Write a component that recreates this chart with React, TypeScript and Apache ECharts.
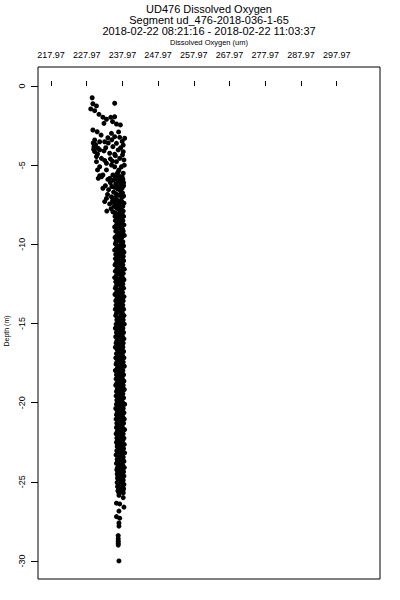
import React, { useEffect, useRef } from "react";
import * as echarts from "echarts";

const titleLines = [
  "UD476 Dissolved Oxygen",
  "Segment ud_476-2018-036-1-65",
  "2018-02-22 08:21:16 - 2018-02-22 11:03:37",
];
const xAxisTitle = "Dissolved Oxygen (um)";
const yAxisTitle = "Depth (m)";

const xTicks = [217.97, 227.97, 237.97, 247.97, 257.97, 267.97, 277.97, 287.97, 297.97];
const yTicks = [0, -5, -10, -15, -20, -25, -30];

// [oxygen (um), depth (m)]
const shallowPoints: [number, number][] = [
  [229.5, -0.74], [235.8, -1.09], [229.7, -1.12], [230.7, -1.26], [229.1, -1.45], [230.2, -1.56],
  [231.4, -1.79], [232.5, -1.97], [233.5, -2.1], [234.7, -1.98], [235.8, -1.94], [232.8, -2.36],
  [235.2, -2.25], [236.3, -2.4], [237.4, -2.46], [229.7, -2.78], [230.9, -2.89], [234.9, -2.99],
  [233.9, -3.27], [235.8, -3.2], [237.2, -3.24], [238.6, -3.3], [230.2, -3.41], [231.6, -3.52],
  [233.0, -3.52], [236.3, -3.62], [238.2, -3.73], [230.0, -3.83], [231.2, -3.94], [235.3, -3.83],
  [230.2, -4.15], [231.6, -4.04], [236.8, -4.04], [238.2, -4.15], [234.4, -4.25], [235.8, -4.31],
  [230.7, -4.46], [232.1, -4.57], [230.7, -4.78], [237.2, -4.57], [236.3, -4.78], [238.4, -4.67],
  [233.5, -4.88], [234.9, -4.99], [231.6, -5.1], [235.8, -5.1], [237.7, -5.1], [233.5, -5.3],
  [236.8, -5.41], [238.2, -5.51], [231.6, -5.67], [232.5, -5.62], [235.3, -5.62], [234.4, -5.83],
  [237.2, -5.83], [229.8, -3.6], [230.5, -3.7], [231.0, -4.3], [229.9, -4.0], [232.8, -4.1],
  [233.3, -3.9], [234.0, -3.6], [234.6, -4.6], [236.0, -4.4], [237.5, -3.9], [235.0, -3.4],
  [232.0, -3.1], [236.9, -2.9], [237.9, -3.5], [237.0, -5.3], [233.0, -4.7], [236.4, -5.55],
  [238.5, -5.0], [235.2, -4.75], [231.0, -5.3], [238.0, -4.35],
];

const transitionPoints: [number, number][] = [
  [233.9, -5.9], [235.5, -5.95], [236.8, -6.0], [238.1, -5.9], [232.1, -5.73], [231.2, -5.83],
  [234.6, -6.1], [236.1, -6.2], [237.6, -6.15], [233.2, -6.3], [235.0, -6.35], [238.3, -6.3],
  [232.5, -6.46], [234.1, -6.55], [236.6, -6.5], [237.4, -6.6], [235.5, -6.7], [238.0, -6.75],
  [233.8, -6.85], [236.9, -6.9], [234.9, -7.0], [237.8, -7.05], [233.5, -7.1], [236.2, -7.15],
  [235.2, -7.25], [233.0, -7.3], [237.3, -7.3], [238.4, -7.4], [234.4, -7.45], [236.5, -7.5],
  [235.6, -7.6], [237.7, -7.65], [234.8, -7.75], [236.9, -7.8], [233.6, -7.9], [238.2, -7.9],
  [235.9, -8.0], [237.2, -8.05], [236.9, -5.65], [237.9, -5.75], [236.0, -5.8], [237.3, -6.05],
  [238.3, -6.1], [235.8, -6.4], [237.0, -6.35], [237.9, -6.45], [236.2, -6.8], [237.5, -6.85],
  [238.3, -6.95], [235.9, -7.05], [236.8, -7.25], [237.8, -7.3], [235.7, -7.38], [237.1, -7.55],
  [238.1, -7.6], [236.3, -7.7], [237.4, -7.85], [235.3, -7.95],
];

const bandLeft: [number, number][] = [
  [236.2, -8.1], [235.9, -8.24], [236.6, -8.37], [236.0, -8.5], [236.8, -8.64], [236.3, -8.77],
  [235.8, -8.9], [236.5, -9.04], [236.1, -9.17], [236.9, -9.3], [236.4, -9.44], [235.9, -9.57],
  [236.7, -9.7], [236.2, -9.84], [236.0, -9.97], [236.6, -10.1], [236.3, -10.24], [235.8, -10.37],
  [236.7, -10.5], [236.1, -10.64], [236.5, -10.77], [236.0, -10.9], [236.8, -11.04], [236.2, -11.17],
  [235.9, -11.3], [236.6, -11.44], [236.4, -11.57], [236.0, -11.7], [236.9, -11.84], [236.3, -11.97],
  [235.8, -12.1], [236.5, -12.24], [236.1, -12.37], [236.7, -12.5], [236.2, -12.64], [236.0, -12.77],
  [236.6, -12.9], [236.3, -13.04], [235.9, -13.17], [236.8, -13.3], [236.4, -13.44], [236.1, -13.57],
  [236.7, -13.7], [236.2, -13.84], [236.5, -13.97], [236.0, -14.1], [236.8, -14.24], [236.3, -14.37],
  [236.1, -14.5], [236.6, -14.64], [236.4, -14.77], [236.9, -14.9], [236.2, -15.04], [236.5, -15.17],
  [236.0, -15.3], [236.7, -15.44], [236.3, -15.57], [236.6, -15.7], [236.1, -15.84], [236.8, -15.97],
  [236.4, -16.1], [236.2, -16.24], [236.7, -16.37], [236.0, -16.5], [236.5, -16.64], [236.9, -16.77],
  [236.3, -16.9], [236.6, -17.04], [236.1, -17.17], [236.8, -17.3], [236.4, -17.44], [236.2, -17.57],
  [236.7, -17.7], [236.5, -17.84], [236.0, -17.97], [236.9, -18.1], [236.3, -18.24], [236.6, -18.37],
  [236.2, -18.5], [236.8, -18.64], [236.4, -18.77], [236.1, -18.9], [236.7, -19.04], [236.5, -19.17],
  [236.3, -19.3], [236.9, -19.44], [236.2, -19.57], [236.6, -19.7], [236.4, -19.84], [236.8, -19.97],
  [236.3, -20.1], [236.6, -20.24], [236.1, -20.37], [236.9, -20.5], [236.5, -20.64], [236.3, -20.77],
  [236.7, -20.9], [236.2, -21.04], [236.8, -21.17], [236.4, -21.3], [236.6, -21.44], [236.3, -21.57],
  [236.9, -21.7], [236.5, -21.84], [236.2, -21.97], [236.7, -22.1], [236.4, -22.24], [236.8, -22.37],
  [236.3, -22.5], [236.6, -22.64], [236.5, -22.77], [236.9, -22.9], [236.4, -23.04], [236.7, -23.17],
  [236.2, -23.3], [236.8, -23.44], [236.5, -23.57], [236.6, -23.7], [236.3, -23.84], [236.9, -23.97],
  [236.6, -24.1], [236.4, -24.24], [236.8, -24.37], [236.5, -24.5], [236.7, -24.64], [236.6, -24.77],
  [236.9, -24.9], [236.5, -25.04], [236.8, -25.17], [236.6, -25.3], [236.9, -25.44], [236.7, -25.57],
  [237.0, -25.7],
];

const bandRight: [number, number][] = [
  [237.9, -8.1], [238.3, -8.24], [237.5, -8.37], [238.1, -8.5], [237.7, -8.64], [238.4, -8.77],
  [237.3, -8.9], [238.0, -9.04], [238.2, -9.17], [237.6, -9.3], [238.5, -9.44], [237.8, -9.57],
  [237.4, -9.7], [238.1, -9.84], [237.9, -9.97], [238.3, -10.1], [237.6, -10.24], [238.0, -10.37],
  [238.4, -10.5], [237.5, -10.64], [238.2, -10.77], [237.8, -10.9], [238.3, -11.04], [237.4, -11.17],
  [238.1, -11.3], [237.9, -11.44], [238.5, -11.57], [237.6, -11.7], [238.2, -11.84], [237.7, -11.97],
  [238.0, -12.1], [238.4, -12.24], [237.5, -12.37], [238.1, -12.5], [237.8, -12.64], [238.3, -12.77],
  [237.6, -12.9], [238.0, -13.04], [237.7, -13.17], [238.4, -13.3], [237.9, -13.44], [238.2, -13.57],
  [237.5, -13.7], [238.1, -13.84], [237.8, -13.97], [238.3, -14.1], [237.6, -14.24], [238.0, -14.37],
  [238.4, -14.5], [237.7, -14.64], [238.2, -14.77], [237.9, -14.9], [238.5, -15.04], [237.6, -15.17],
  [238.1, -15.3], [237.8, -15.44], [238.3, -15.57], [237.5, -15.7], [238.0, -15.84], [238.4, -15.97],
  [237.7, -16.1], [238.2, -16.24], [237.9, -16.37], [238.1, -16.5], [237.6, -16.64], [238.3, -16.77],
  [237.8, -16.9], [238.0, -17.04], [238.4, -17.17], [237.7, -17.3], [238.2, -17.44], [237.9, -17.57],
  [238.5, -17.7], [237.6, -17.84], [238.1, -17.97], [237.8, -18.1], [238.3, -18.24], [237.5, -18.37],
  [238.0, -18.5], [238.4, -18.64], [237.7, -18.77], [238.2, -18.9], [237.9, -19.04], [238.5, -19.17],
  [237.6, -19.3], [238.1, -19.44], [237.8, -19.57], [238.3, -19.7], [237.6, -19.84], [238.0, -19.97],
  [238.6, -20.1], [237.7, -20.24], [238.2, -20.37], [237.9, -20.5], [238.4, -20.64], [237.6, -20.77],
  [238.1, -20.9], [238.5, -21.04], [237.8, -21.17], [238.3, -21.3], [237.7, -21.44], [238.0, -21.57],
  [238.6, -21.7], [237.9, -21.84], [238.2, -21.97], [237.6, -22.1], [238.4, -22.24], [238.1, -22.37],
  [237.8, -22.5], [238.5, -22.64], [237.7, -22.77], [238.3, -22.9], [238.0, -23.04], [238.6, -23.17],
  [237.8, -23.3], [238.2, -23.44], [237.9, -23.57], [238.4, -23.7], [237.7, -23.84], [238.1, -23.97],
  [238.5, -24.1], [237.8, -24.24], [238.3, -24.37], [238.0, -24.5], [238.4, -24.64], [237.8, -24.77],
  [238.2, -24.9], [238.0, -25.04], [238.4, -25.17], [237.9, -25.3], [238.3, -25.44], [238.1, -25.57],
  [238.2, -25.7],
];

const bandMiddle: [number, number][] = [
  [237.1, -8.17], [237.4, -8.44], [237.0, -8.7], [237.3, -8.97], [237.5, -9.24], [237.1, -9.5],
  [237.2, -9.77], [237.4, -10.04], [237.0, -10.3], [237.3, -10.57], [237.5, -10.84], [237.1, -11.1],
  [237.2, -11.37], [237.0, -11.64], [237.4, -11.9], [237.3, -12.17], [237.1, -12.44], [237.5, -12.7],
  [237.2, -12.97], [237.0, -13.24], [237.3, -13.5], [237.4, -13.77], [237.1, -14.04], [237.2, -14.3],
  [237.5, -14.57], [237.0, -14.84], [237.3, -15.1], [237.2, -15.37], [237.4, -15.64], [237.1, -15.9],
  [237.3, -16.17], [237.0, -16.44], [237.5, -16.7], [237.2, -16.97], [237.4, -17.24], [237.1, -17.5],
  [237.3, -17.77], [237.2, -18.04], [237.5, -18.3], [237.1, -18.57], [237.4, -18.84], [237.2, -19.1],
  [237.0, -19.37], [237.3, -19.64], [237.5, -19.9], [237.2, -20.17], [237.4, -20.44], [237.1, -20.7],
  [237.3, -20.97], [237.6, -21.24], [237.2, -21.5], [237.4, -21.77], [237.1, -22.04], [237.5, -22.3],
  [237.3, -22.57], [237.2, -22.84], [237.6, -23.1], [237.4, -23.37], [237.1, -23.64], [237.5, -23.9],
  [237.3, -24.17], [237.6, -24.44], [237.2, -24.7], [237.5, -24.97], [237.4, -25.24], [237.6, -25.5],
];

const bottomPoints: [number, number][] = [
  [237.0, -25.85], [238.2, -26.0], [236.3, -26.35], [237.2, -26.4], [238.4, -26.6], [237.0, -26.85],
  [236.3, -27.2], [237.2, -27.3], [237.0, -27.6], [237.0, -27.8], [236.8, -28.4], [236.8, -28.6],
  [236.8, -28.75], [236.8, -28.9], [236.8, -29.0], [237.0, -30.0],
];

const FONT = "'Liberation Sans', Arial, Helvetica, sans-serif";
const FONT_NARROW = "'Liberation Sans Narrow', 'Liberation Sans', Arial, sans-serif";

export default function App() {
  const ref = useRef<HTMLDivElement>(null);
  useEffect(() => {
    if (!ref.current) return;
    const chart = echarts.init(ref.current, null, { renderer: "svg" });
    const allPoints = [
      ...shallowPoints,
      ...transitionPoints,
      ...bandLeft,
      ...bandMiddle,
      ...bandRight,
      ...bottomPoints,
    ];
    const plotCenterX = 209;
    chart.setOption({
      animation: false,
      backgroundColor: "#fff",
      grid: {
        left: 38,
        right: 20,
        top: 67,
        bottom: 21,
        show: true,
        borderColor: "#000",
        borderWidth: 1,
        backgroundColor: "transparent",
      },
      xAxis: {
        type: "value",
        position: "top",
        min: 214.33,
        max: 310.11,
        splitLine: { show: false },
        axisLine: { show: false },
        axisTick: {
          show: true,
          length: 5,
          customValues: xTicks,
          lineStyle: { color: "#000", width: 1 },
        },
        axisLabel: {
          customValues: xTicks,
          formatter: (v: number) => v.toFixed(2),
          fontSize: 9,
          fontFamily: FONT_NARROW,
          color: "#000",
          margin: 8,
        },
      },
      yAxis: {
        type: "value",
        min: -31.14,
        max: 1.2,
        splitLine: { show: false },
        axisLine: { show: false },
        axisTick: {
          show: true,
          length: 7,
          customValues: yTicks,
          lineStyle: { color: "#000", width: 1 },
        },
        axisLabel: {
          customValues: yTicks,
          rotate: 90,
          fontSize: 9,
          fontFamily: FONT_NARROW,
          color: "#000",
          margin: 12,
        },
      },
      graphic: [
        ...titleLines.map((t, i) => ({
          type: "text",
          x: plotCenterX,
          y: 9 + i * 11,
          style: {
            text: t,
            fill: "#000",
            font: `11px ${FONT}`,
            textAlign: "center",
            textVerticalAlign: "middle",
          },
        })),
        {
          type: "text",
          x: plotCenterX,
          y: 42,
          style: {
            text: xAxisTitle,
            fill: "#000",
            font: `7.5px ${FONT}`,
            textAlign: "center",
            textVerticalAlign: "middle",
          },
        },
        {
          type: "text",
          x: 6,
          y: 331,
          rotation: Math.PI / 2,
          style: {
            text: yAxisTitle,
            fill: "#000",
            font: `7px ${FONT}`,
            textAlign: "center",
            textVerticalAlign: "middle",
          },
        },
      ],
      series: [
        {
          type: "scatter",
          data: allPoints,
          symbol: "circle",
          symbolSize: 5,
          itemStyle: { color: "#000", opacity: 1 },
        },
      ],
    });
    return () => chart.dispose();
  }, []);
  return (
    <div
      ref={ref}
      style={{ position: "fixed", left: 0, top: 0, width: 400, height: 600 }}
    />
  );
}
